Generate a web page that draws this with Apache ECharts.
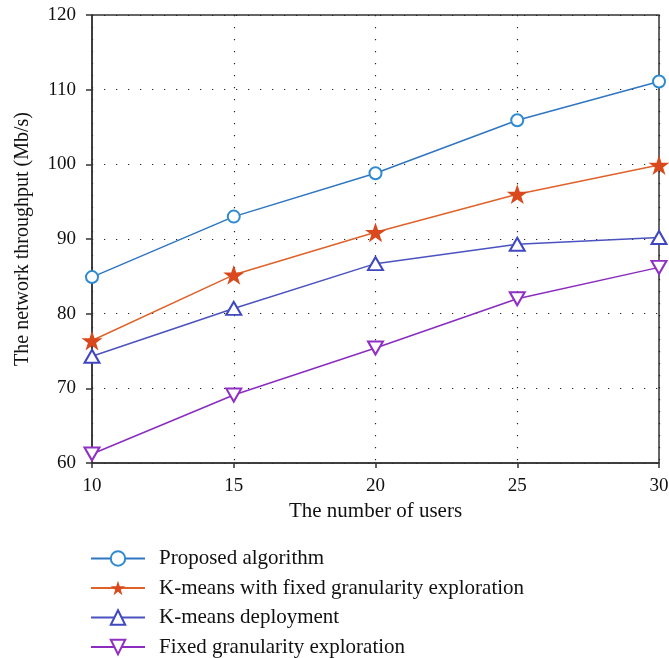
<!DOCTYPE html>
<html>
<head>
<meta charset="utf-8">
<script src="https://cdn.jsdelivr.net/npm/echarts@6/dist/echarts.min.js"></script>
<style>
  html, body { margin: 0; padding: 0; background: #fff; }
  #chart { width: 669px; height: 658px; }
</style>
</head>
<body>
<div id="chart"></div>
<script>
// Number of users on the x axis
const users = [10, 15, 20, 25, 30];

// Network throughput (Mb/s) per method
const proposed = [84.9, 93.0, 98.8, 105.9, 111.1];
const kmeansFixed = [76.4, 85.2, 90.9, 96.0, 99.9];
const kmeansDeploy = [74.3, 80.7, 86.7, 89.3, 90.2];
const fixedGranularity = [61.2, 69.1, 75.4, 82.0, 86.2];

const seriesNames = [
  'Proposed algorithm',
  'K-means with fixed granularity exploration',
  'K-means deployment',
  'Fixed granularity exploration'
];

const xTicks = { min: 10, max: 30, step: 5 };
const yTicks = { min: 60, max: 120, step: 10 };

const font = '"Liberation Serif", "DejaVu Serif", serif';
const axisColor = '#333';
const starPath = 'path://M50,0 L61.8,35.1 L98.9,35.1 L69,56.8 L80.3,91.9 L50,70.2 L19.7,91.9 L31,56.8 L1.1,35.1 L38.2,35.1 Z';

function pairs(vals) {
  return users.map((u, i) => [u, vals[i]]);
}

const chart = echarts.init(document.getElementById('chart'), null, { renderer: 'canvas' });

const gridLine = { show: true, lineStyle: { color: '#222', width: 1.2, type: [1.2, 10.8] } };

chart.setOption({
  backgroundColor: '#fff',
  animation: false,
  textStyle: { fontFamily: font },
  grid: {
    left: 92, right: 10, top: 15, bottom: 195,
    outerBoundsMode: 'none', containLabel: false,
    show: true, borderColor: axisColor, borderWidth: 1.5, backgroundColor: 'transparent'
  },
  legend: {
    orient: 'vertical',
    left: 90, top: 548, padding: 0,
    itemWidth: 54, itemHeight: 18, itemGap: 8.5,
    data: seriesNames,
    textStyle: { fontFamily: font, fontSize: 21, color: '#111', padding: [0, 0, 0, 9], lineHeight: 20 }
  },
  xAxis: {
    type: 'value',
    min: xTicks.min, max: xTicks.max, interval: xTicks.step,
    name: 'The number of users',
    nameLocation: 'middle', nameGap: 27,
    nameTextStyle: { fontFamily: font, fontSize: 21, color: '#111' },
    axisLine: { show: true, lineStyle: { color: axisColor, width: 1.5 } },
    axisTick: { show: true, inside: false, length: 5, lineStyle: { color: axisColor, width: 1.5 } },
    axisLabel: { fontFamily: font, fontSize: 19, color: '#111', margin: 14 },
    splitLine: gridLine
  },
  yAxis: {
    type: 'value',
    min: yTicks.min, max: yTicks.max, interval: yTicks.step,
    name: 'The network throughput (Mb/s)',
    nameLocation: 'middle', nameGap: 59,
    nameTextStyle: { fontFamily: font, fontSize: 20, color: '#111' },
    axisLine: { show: true, lineStyle: { color: axisColor, width: 1.5 } },
    axisTick: { show: true, inside: false, length: 6, lineStyle: { color: axisColor, width: 1.5 } },
    axisLabel: { fontFamily: font, fontSize: 19, color: '#111', margin: 16 },
    splitLine: gridLine
  },
  series: [
    {
      name: seriesNames[0], type: 'line', data: pairs(proposed),
      symbol: 'emptyCircle', symbolSize: 12,
      lineStyle: { color: '#2f76c2', width: 1.5 },
      itemStyle: { color: '#2f8acf', borderColor: '#2f8acf', borderWidth: 1.5 },
      z: 4
    },
    {
      name: seriesNames[1], type: 'line', data: pairs(kmeansFixed),
      symbol: starPath, symbolSize: 21, symbolKeepAspect: true,
      lineStyle: { color: '#e0622b', width: 1.5 },
      itemStyle: { color: '#d9491d', borderColor: '#d9491d', borderWidth: 0 },
      z: 5
    },
    {
      name: seriesNames[2], type: 'line', data: pairs(kmeansDeploy),
      symbol: 'emptyTriangle', symbolSize: [15, 13],
      lineStyle: { color: '#4a53bf', width: 1.5 },
      itemStyle: { color: '#4048c0', borderColor: '#4048c0', borderWidth: 1.5 },
      z: 3
    },
    {
      name: seriesNames[3], type: 'line', data: pairs(fixedGranularity),
      symbol: 'emptyTriangle', symbolSize: [15, 13], symbolRotate: 180,
      lineStyle: { color: '#8a2cc0', width: 1.5 },
      itemStyle: { color: '#9030c4', borderColor: '#9030c4', borderWidth: 1.5 },
      z: 2
    }
  ]
});
</script>
</body>
</html>
